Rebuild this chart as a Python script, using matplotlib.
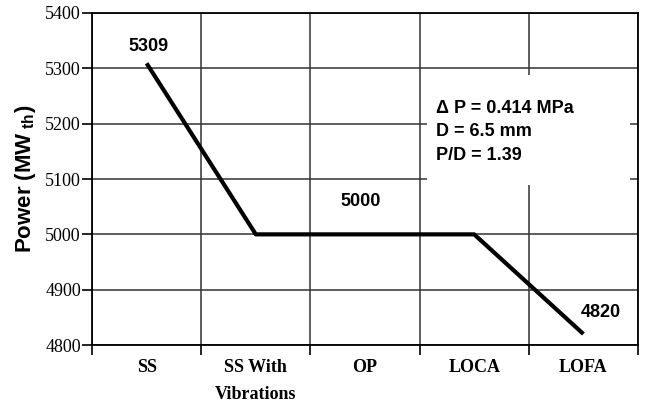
import matplotlib.pyplot as plt
from matplotlib.patches import Rectangle
import numpy as np

# du lieu
categories = ["SS", "SS With\nVibrations", "OP", "LOCA", "LOFA"]
power = [5309, 5000, 5000, 5000, 4820]
yticks = [4800, 4900, 5000, 5100, 5200, 5300, 5400]
info = "\u0394 P = 0.414 MPa\nD = 6.5 mm\nP/D = 1.39"

plt.rcParams['mathtext.fontset'] = 'custom'
plt.rcParams['mathtext.rm'] = 'Liberation Sans:bold'
plt.rcParams['mathtext.it'] = 'Liberation Sans:bold'
plt.rcParams['mathtext.bf'] = 'Liberation Sans:bold'

fig = plt.figure(figsize=(6.48, 4.05), dpi=100)
ax = fig.add_axes([0.142, 0.148, 0.8426, 0.820])

x = np.arange(len(categories))
ax.plot(x, power, color='black', lw=3.0, solid_capstyle='butt', zorder=4)

ax.set_xlim(-0.5, len(categories) - 0.5)
ax.set_ylim(4800, 5400)
ax.set_yticks(yticks)
ax.set_yticklabels([str(v) for v in yticks], family='Liberation Serif', fontsize=13)

# vach chia o ranh gioi, nhan o giua
ax.set_xticks(np.arange(len(categories) + 1) - 0.5)
ax.set_xticklabels([])
ax.set_xticks(x, minor=True)
ax.set_xticklabels(categories, minor=True, family='Liberation Serif',
                   fontweight='bold', fontsize=13, va='top', linespacing=1.75)
ax.tick_params(axis='x', which='minor', length=0, pad=10)
ax.tick_params(axis='x', which='major', length=7, width=1.2, direction='out')
ax.tick_params(axis='y', length=7, width=1.2, direction='out', pad=1)

ax.grid(True, which='major', color='#333333', lw=1.1, zorder=1)
ax.set_axisbelow(True)
for s in ax.spines.values():
    s.set_linewidth(1.3)

ax.set_ylabel('Power (MW$_{\\ th}$)', family='Liberation Sans', fontweight='bold',
              fontsize=16)
ax.yaxis.set_label_coords(-0.099, 0.5)

# o nen trang sau chu
ax.add_patch(Rectangle((2.57, 5089), 1.86, 199, facecolor='white', edgecolor='none', zorder=2))

# gia tri tren duong
kw = dict(ha='center', va='center', family='Liberation Sans', fontweight='bold', fontsize=13, zorder=5)
ax.text(0.02, 5340, str(power[0]), **kw)
ax.text(1.96, 5060, str(power[2]), **kw)
ax.text(4.16, 4858, str(power[4]), **kw)

ax.text(2.65, 5185, info, ha='left', va='center', family='Liberation Sans',
        fontweight='bold', fontsize=13, linespacing=1.5, zorder=5)

plt.savefig('out.png', dpi=100)
